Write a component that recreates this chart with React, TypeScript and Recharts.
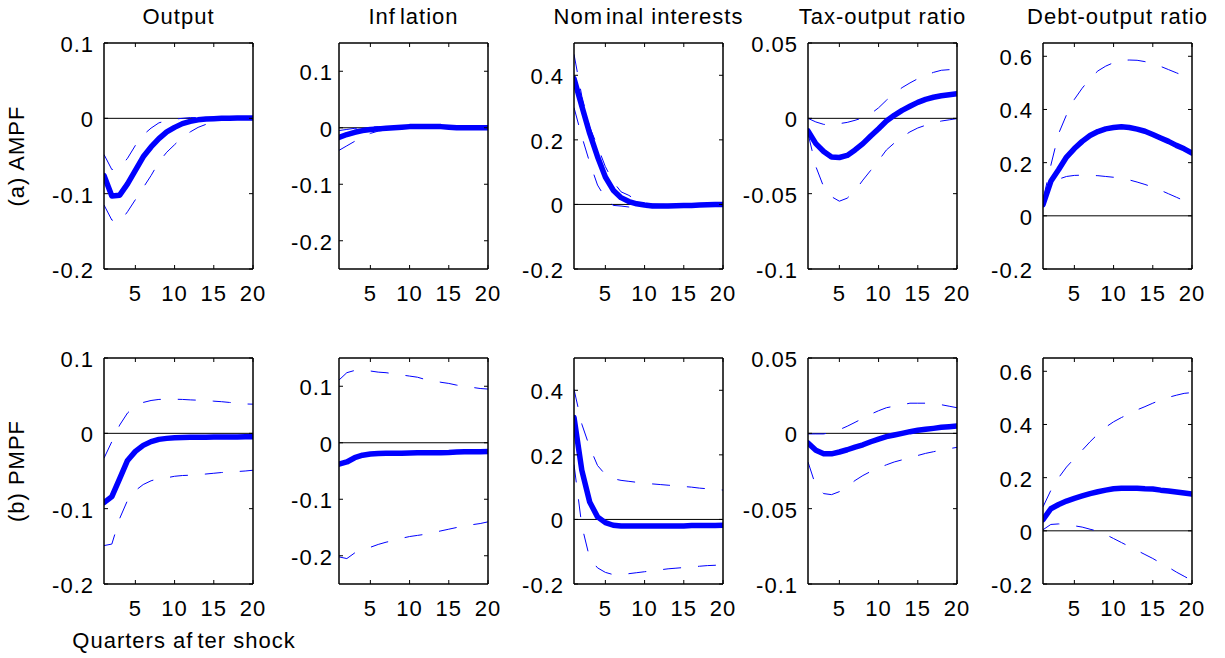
import React from 'react';
import { LineChart, Line, XAxis, YAxis, ReferenceLine } from 'recharts';

// ---------- data ----------
const quarters = [1, 2, 3, 4, 5, 6, 7, 8, 9, 10, 11, 12, 13, 14, 15, 16, 17, 18, 19, 20];
const xTicks = [5, 10, 15, 20];

const panelTitles = ['Output', 'Inflation', 'Nominal interests', 'Tax-output ratio', 'Debt-output ratio'];
const rowLabels = ['(a) AMPF', '(b) PMPF'];
const xAxisLabel = 'Quarters after shock';

const yDomains: [number, number][] = [[-0.2, 0.1], [-0.25, 0.15], [-0.2, 0.5], [-0.1, 0.05], [-0.2, 0.65]];
const yTicks = [
  [-0.2, -0.1, 0, 0.1],
  [-0.2, -0.1, 0, 0.1],
  [-0.2, 0, 0.2, 0.4],
  [-0.1, -0.05, 0, 0.05],
  [-0.2, 0, 0.2, 0.4, 0.6],
];

// (a) AMPF
const outputA_mid = [-0.076, -0.103, -0.102, -0.087, -0.069, -0.051, -0.038, -0.027, -0.018, -0.012, -0.007, -0.004, -0.002, -0.001, -0.0005, 0, 0, 0.0005, 0.0005, 0.0005];
const outputA_hi = [-0.048, -0.068, -0.066, -0.053, -0.036, -0.022, -0.013, -0.006, -0.003, -0.001, 0, 0.001, 0.001, 0.001, 0.001, 0.001, 0.001, 0.001, 0.001, 0.001];
const outputA_lo = [-0.115, -0.135, -0.138, -0.124, -0.108, -0.092, -0.076, -0.058, -0.045, -0.035, -0.025, -0.018, -0.012, -0.008, -0.005, -0.003, -0.002, -0.001, -0.0005, 0];

const inflA_mid = [-0.017, -0.012, -0.008, -0.005, -0.003, -0.002, -0.001, 0.0, 0.001, 0.002, 0.002, 0.002, 0.002, 0.002, 0.001, 0.0, 0.0, 0.0, 0.0, 0.0];
const inflA_hi = [-0.005, -0.003, -0.001, 0.0, 0.001, 0.002, 0.002, 0.002, 0.003, 0.003, 0.003, 0.003, 0.003, 0.003, 0.002, 0.002, 0.002, 0.002, 0.002, 0.002];
const inflA_lo = [-0.04, -0.032, -0.024, -0.016, -0.01, -0.006, -0.004, -0.002, -0.001, 0.0, 0.0, 0.0, 0.0, 0.0, -0.001, -0.001, -0.001, -0.001, -0.001, -0.001];

const nomA_mid = [0.39, 0.304, 0.22, 0.148, 0.085, 0.044, 0.021, 0.009, 0.002, -0.002, -0.005, -0.005, -0.005, -0.004, -0.003, -0.003, -0.002, -0.001, 0, 0];
const nomA_hi = [0.465, 0.335, 0.24, 0.18, 0.117, 0.07, 0.039, 0.028, 0.0125, 0.004, 0.001, 0, 0, 0, 0, 0, 0, 0, 0.001, 0.001];
const nomA_lo = [0.3, 0.21, 0.13, 0.06, 0.02, -0.003, -0.005, -0.008, -0.01, -0.01, -0.009, -0.008, -0.007, -0.006, -0.005, -0.004, -0.004, -0.003, -0.003, -0.003];

const taxA_mid = [-0.0084, -0.0168, -0.022, -0.0257, -0.026, -0.0246, -0.021, -0.0168, -0.0117, -0.0069, -0.0018, 0.002, 0.0053, 0.008, 0.0106, 0.0126, 0.014, 0.015, 0.0157, 0.0164];
const taxA_hi = [0, -0.0024, -0.004, -0.0044, -0.0035, -0.0027, -0.0013, 0.0004, 0.003, 0.007, 0.012, 0.0164, 0.0204, 0.0235, 0.0263, 0.0285, 0.0305, 0.0319, 0.0323, 0.0323];
const taxA_lo = [-0.01, -0.032, -0.0455, -0.052, -0.055, -0.053, -0.048, -0.041, -0.0345, -0.028, -0.021, -0.0164, -0.0124, -0.009, -0.0064, -0.0046, -0.003, -0.0018, -0.001, -0.0002];

const debtA_mid = [0.042, 0.13, 0.174, 0.221, 0.253, 0.28, 0.302, 0.317, 0.327, 0.332, 0.335, 0.332, 0.326, 0.318, 0.306, 0.293, 0.28, 0.265, 0.252, 0.236];
const debtA_hi = [0.06, 0.19, 0.31, 0.38, 0.438, 0.48, 0.516, 0.545, 0.563, 0.576, 0.585, 0.586, 0.585, 0.58, 0.572, 0.562, 0.55, 0.538, 0.526, 0.513];
const debtA_lo = [0.035, 0.11, 0.138, 0.148, 0.152, 0.153, 0.152, 0.151, 0.148, 0.145, 0.141, 0.135, 0.127, 0.118, 0.108, 0.096, 0.083, 0.07, 0.057, 0.045];

// (b) PMPF
const outputB_mid = [-0.092, -0.084, -0.06, -0.036, -0.024, -0.016, -0.011, -0.008, -0.0067, -0.006, -0.0055, -0.0053, -0.0052, -0.0051, -0.005, -0.005, -0.005, -0.0048, -0.0046, -0.0045];
const outputB_hi = [-0.033, -0.011, 0.011, 0.027, 0.036, 0.041, 0.0436, 0.045, 0.0453, 0.0453, 0.045, 0.0444, 0.044, 0.0436, 0.0427, 0.042, 0.041, 0.04, 0.039, 0.0387];
const outputB_lo = [-0.149, -0.147, -0.113, -0.089, -0.076, -0.068, -0.063, -0.06, -0.059, -0.057, -0.056, -0.0556, -0.055, -0.054, -0.053, -0.052, -0.0516, -0.0507, -0.05, -0.049];

const inflB_mid = [-0.038, -0.034, -0.0265, -0.022, -0.02, -0.019, -0.0185, -0.0185, -0.0185, -0.018, -0.0176, -0.0176, -0.0176, -0.0175, -0.0172, -0.0165, -0.016, -0.016, -0.0158, -0.0155];
const inflB_hi = [0.111, 0.124, 0.128, 0.128, 0.127, 0.125, 0.124, 0.122, 0.12, 0.118, 0.116, 0.112, 0.11, 0.107, 0.105, 0.102, 0.1, 0.098, 0.096, 0.095];
const inflB_lo = [-0.202, -0.205, -0.195, -0.19, -0.185, -0.18, -0.176, -0.173, -0.169, -0.166, -0.164, -0.162, -0.159, -0.156, -0.153, -0.15, -0.148, -0.145, -0.143, -0.14];

const nomB_mid = [0.316, 0.152, 0.054, 0.008, -0.01, -0.018, -0.0205, -0.02, -0.02, -0.02, -0.02, -0.02, -0.02, -0.02, -0.02, -0.019, -0.019, -0.019, -0.019, -0.018];
const nomB_hi = [0.403, 0.295, 0.224, 0.167, 0.139, 0.126, 0.121, 0.118, 0.115, 0.112, 0.11, 0.108, 0.106, 0.104, 0.102, 0.1, 0.097, 0.095, 0.093, 0.091];
const nomB_lo = [0.17, -0.02, -0.12, -0.15, -0.164, -0.171, -0.171, -0.168, -0.165, -0.162, -0.159, -0.156, -0.153, -0.151, -0.149, -0.147, -0.145, -0.143, -0.142, -0.14];

const taxB_mid = [-0.0064, -0.0113, -0.0136, -0.0136, -0.0124, -0.0109, -0.0091, -0.0076, -0.0056, -0.0038, -0.0022, -0.0011, 0, 0.0011, 0.002, 0.0027, 0.0033, 0.004, 0.0044, 0.0049];
const taxB_hi = [-0.0004, -0.0004, -0.0004, 0.0007, 0.0024, 0.0047, 0.0073, 0.01, 0.0127, 0.015, 0.017, 0.018, 0.019, 0.02, 0.02, 0.02, 0.0198, 0.019, 0.018, 0.017];
const taxB_lo = [-0.019, -0.035, -0.04, -0.0407, -0.0387, -0.0353, -0.0313, -0.028, -0.0253, -0.0229, -0.0209, -0.019, -0.0176, -0.016, -0.0147, -0.0133, -0.0122, -0.0111, -0.0102, -0.0093];

const debtB_mid = [0.042, 0.083, 0.099, 0.112, 0.122, 0.131, 0.14, 0.147, 0.153, 0.158, 0.16, 0.16, 0.16, 0.158, 0.157, 0.153, 0.15, 0.146, 0.142, 0.138];
const debtB_hi = [0.09, 0.152, 0.2, 0.24, 0.272, 0.303, 0.335, 0.364, 0.39, 0.41, 0.426, 0.44, 0.455, 0.467, 0.48, 0.492, 0.502, 0.51, 0.517, 0.52];
const debtB_lo = [0.004, 0.024, 0.026, 0.023, 0.019, 0.014, 0.006, -0.001, -0.014, -0.029, -0.044, -0.059, -0.074, -0.089, -0.104, -0.121, -0.137, -0.155, -0.171, -0.187];

const seriesRows = [
  [
    [outputA_hi, outputA_mid, outputA_lo],
    [inflA_hi, inflA_mid, inflA_lo],
    [nomA_hi, nomA_mid, nomA_lo],
    [taxA_hi, taxA_mid, taxA_lo],
    [debtA_hi, debtA_mid, debtA_lo],
  ],
  [
    [outputB_hi, outputB_mid, outputB_lo],
    [inflB_hi, inflB_mid, inflB_lo],
    [nomB_hi, nomB_mid, nomB_lo],
    [taxB_hi, taxB_mid, taxB_lo],
    [debtB_hi, debtB_mid, debtB_lo],
  ],
];

// ---------- layout / style ----------
const FONT = '"Liberation Sans", Arial, Helvetica, sans-serif';
const FS = 22;
const LS = 1;
const BLUE = '#0000ff';
const PLOT_W = 149;
const PLOT_H = 226;
const Y_AXIS_W = 70;
const X_AXIS_H = 45;
const M_TOP = 16;
const M_RIGHT = 20;
const SIDE_AXIS = 1; // thin top / right axes that carry the box lines
const TICK_LEN = 4;
const panelLefts = [104, 339, 574, 808, 1043];
const rowTops = [43, 358];
const labelGaps = [10, 6, 10, 10, 10];

function buildRows(hi: number[], mid: number[], lo: number[]) {
  return quarters.map((q, i) => ({ q, hi: hi[i], mid: mid[i], lo: lo[i] }));
}

const textStyle = { fontFamily: FONT, fontSize: FS, fill: '#000', letterSpacing: LS } as const;

const BottomTick = (props: any) => {
  const { x, y, payload } = props;
  return (
    <g>
      <line x1={x} y1={y} x2={x} y2={y - TICK_LEN} stroke="#000" strokeWidth={1} />
      <text x={x} y={y + 32} textAnchor="middle" style={textStyle}>
        {String(payload.value)}
      </text>
    </g>
  );
};

const TopTick = (props: any) => {
  const { x, y } = props;
  return <line x1={x} y1={y} x2={x} y2={y + TICK_LEN} stroke="#000" strokeWidth={1} />;
};

const makeLeftTick = (gap: number) => (props: any) => {
  const { x, y, payload } = props;
  return (
    <g>
      <line x1={x} y1={y} x2={x + TICK_LEN} y2={y} stroke="#000" strokeWidth={1} />
      <text x={x - gap} y={y + 9} textAnchor="end" style={textStyle}>
        {String(payload.value)}
      </text>
    </g>
  );
};

const RightTick = (props: any) => {
  const { x, y } = props;
  return <line x1={x} y1={y} x2={x - TICK_LEN} y2={y} stroke="#000" strokeWidth={1} />;
};

function Panel({ row, col }: { row: number; col: number }) {
  const [hi, mid, lo] = seriesRows[row][col];
  const data = buildRows(hi, mid, lo);
  const domain = yDomains[col];
  const ticks = yTicks[col];
  const width = Y_AXIS_W + PLOT_W + SIDE_AXIS + M_RIGHT;
  const height = M_TOP + SIDE_AXIS + PLOT_H + X_AXIS_H;
  const axisLine = { stroke: '#000', strokeWidth: 1.5 };
  return (
    <div style={{ position: 'absolute', left: panelLefts[col] - Y_AXIS_W, top: rowTops[row] - M_TOP - SIDE_AXIS }}>
      <LineChart width={width} height={height} data={data} margin={{ top: M_TOP, right: M_RIGHT, bottom: 0, left: 0 }}>
        <XAxis
          dataKey="q"
          type="number"
          domain={[1, 20]}
          ticks={xTicks}
          interval={0}
          allowDataOverflow
          height={X_AXIS_H}
          tickSize={0}
          tickMargin={0}
          tickLine={false}
          axisLine={axisLine}
          tick={BottomTick}
        />
        <XAxis
          xAxisId="top"
          orientation="top"
          dataKey="q"
          type="number"
          domain={[1, 20]}
          ticks={xTicks}
          interval={0}
          allowDataOverflow
          height={SIDE_AXIS}
          tickSize={0}
          tickMargin={0}
          tickLine={false}
          axisLine={axisLine}
          tick={TopTick}
        />
        <YAxis
          type="number"
          domain={domain}
          ticks={ticks}
          interval={0}
          allowDataOverflow
          width={Y_AXIS_W}
          tickSize={0}
          tickMargin={0}
          tickLine={false}
          axisLine={axisLine}
          tick={makeLeftTick(labelGaps[col])}
        />
        <YAxis
          yAxisId="right"
          orientation="right"
          type="number"
          domain={domain}
          ticks={ticks}
          interval={0}
          allowDataOverflow
          width={SIDE_AXIS}
          tickSize={0}
          tickMargin={0}
          tickLine={false}
          axisLine={axisLine}
          tick={RightTick}
        />
        <ReferenceLine y={0} stroke="#000" strokeWidth={1} />
        <Line dataKey="hi" type="linear" stroke={BLUE} strokeWidth={1} strokeDasharray="18 17" dot={false} activeDot={false} isAnimationActive={false} />
        <Line dataKey="lo" type="linear" stroke={BLUE} strokeWidth={1} strokeDasharray="18 17" dot={false} activeDot={false} isAnimationActive={false} />
        <Line dataKey="mid" type="linear" stroke={BLUE} strokeWidth={5.5} strokeLinejoin="round" strokeLinecap="round" dot={false} activeDot={false} isAnimationActive={false} />
      </LineChart>
    </div>
  );
}

const gap = (w: number) => <span style={{ display: 'inline-block', width: w }} />;

const titleNodes = [
  <>Output</>,
  <>Inf{gap(4)}lation</>,
  <>Nom{gap(3)}inal interests</>,
  <>Tax-output ratio</>,
  <>Debt-output ratio</>,
];

export default function App() {
  const htmlText: React.CSSProperties = {
    position: 'absolute',
    fontFamily: FONT,
    fontSize: FS,
    letterSpacing: LS,
    lineHeight: `${FS}px`,
    whiteSpace: 'nowrap',
    color: '#000',
    zIndex: 2,
  };
  return (
    <div style={{ position: 'absolute', left: 0, top: 0, width: 1225, height: 658, background: '#fff', overflow: 'hidden' }}>
      {rowTops.map((_, r) => panelLefts.map((_, c) => <Panel key={`${r}-${c}`} row={r} col={c} />))}
      {panelTitles.map((t, i) => (
        <div
          key={t}
          title={t}
          style={{ ...htmlText, left: panelLefts[i] + PLOT_W / 2, top: 17, transform: 'translate(-50%, -50%)' }}
        >
          {titleNodes[i]}
        </div>
      ))}
      {rowLabels.map((t, r) => (
        <div
          key={t}
          style={{ ...htmlText, left: 17, top: rowTops[r] + PLOT_H / 2, transform: 'translate(-50%, -50%) rotate(-90deg)' }}
        >
          {t}
        </div>
      ))}
      <div style={{ ...htmlText, left: 184, top: 641, transform: 'translate(-50%, -50%)' }} title={xAxisLabel}>
        Quarters af{gap(4)}ter shock
      </div>
    </div>
  );
}
